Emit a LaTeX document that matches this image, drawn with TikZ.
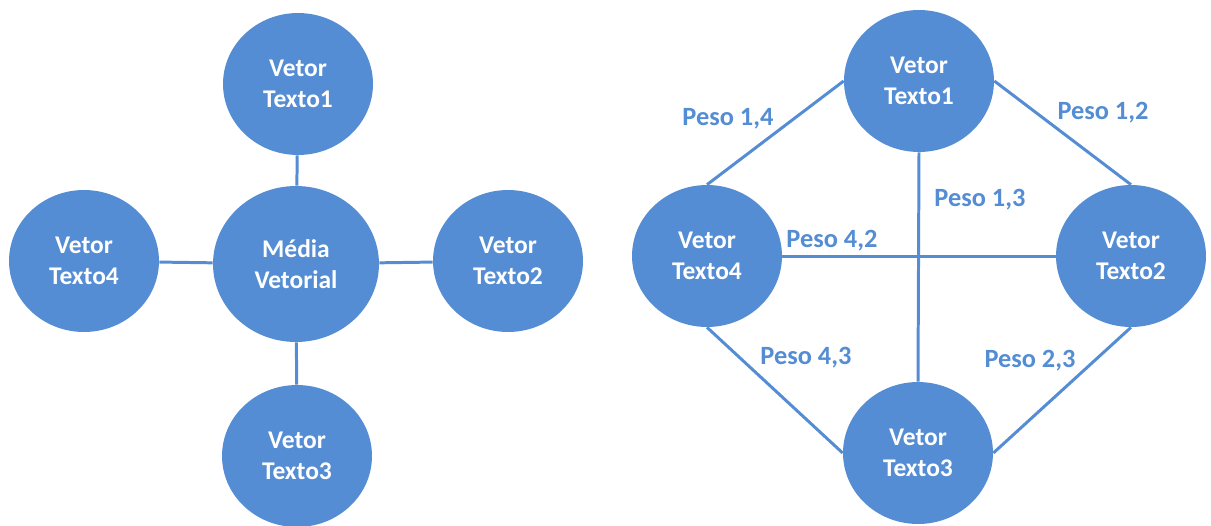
\documentclass[tikz,border=0pt]{standalone}
\usepackage{fontspec}
\setmainfont{Carlito}
\usepackage{tikz}
\usetikzlibrary{positioning,shapes.geometric}
\definecolor{azul}{RGB}{84,141,212}

\begin{document}
\begin{tikzpicture}[
		x=0.02cm,y=-0.02cm,
		vetor/.style={
			ellipse,
			fill=azul,
			text=white,
			align=center,
			inner sep=0pt,
			minimum width=3cm,
			minimum height=2.84cm,
			font=\fontsize{14.5}{17.5}\selectfont\bfseries
		},
		media/.style={
			vetor,
			minimum width=3.32cm,
			minimum height=3.12cm
		},
		peso/.style={
			text=azul,
			inner sep=1pt,
			font=\fontsize{15}{18}\selectfont\bfseries
		},
		link/.style={draw=azul,line width=1.7pt}
		]
		
		\useasboundingbox (0,0) rectangle (1211,525);
		
		% media vetorial
		\node (lt1) [vetor] at (298,84) {Vetor\\Texto1};
		
		\node (lt4) [vetor] at (84,261) {Vetor\\Texto4};
		
		\node (lt2) [vetor] at (508,261) {Vetor\\Texto2};
		
		\node (lt3) [vetor] at (297,456) {Vetor\\Texto3};
		
		\node (med) [media] at (296,264) {M\'edia\\Vetorial};
		
		\draw[link] (lt1)--(med);
		\draw[link] (lt4)--(med);
		\draw[link] (lt2)--(med);
		\draw[link] (lt3)--(med);
		
		% pesos
		\node (rt1) [vetor] at (919,81) {Vetor\\Texto1};
		
		\node (rt4) [vetor] at (707,256) {Vetor\\Texto4};
		
		\node (rt2) [vetor] at (1131,256) {Vetor\\Texto2};
		
		\node (rt3) [vetor] at (918,453) {Vetor\\Texto3};
		
		\draw[link] (rt4.north)--(rt1.west);
		\draw[link] (rt1.east)--(rt2.north);
		\draw[link] (rt4.south)--(rt3.west);
		\draw[link] (rt3.east)--(rt2.south);
		\draw[link] (rt1.south)--(rt3.north);
		\draw[link] (rt4.east)--(rt2.west);
		
		\node (p14) [peso] at (728,119) {Peso 1,4};
		\node (p12) [peso] at (1103,113) {Peso 1,2};
		\node (p13) [peso] at (980,200) {Peso 1,3};
		\node (p42) [peso] at (832,241) {Peso 4,2};
		\node (p43) [peso] at (806,358) {Peso 4,3};
		\node (p23) [peso] at (1030,361) {Peso 2,3};
		
	\end{tikzpicture}
\end{document}
